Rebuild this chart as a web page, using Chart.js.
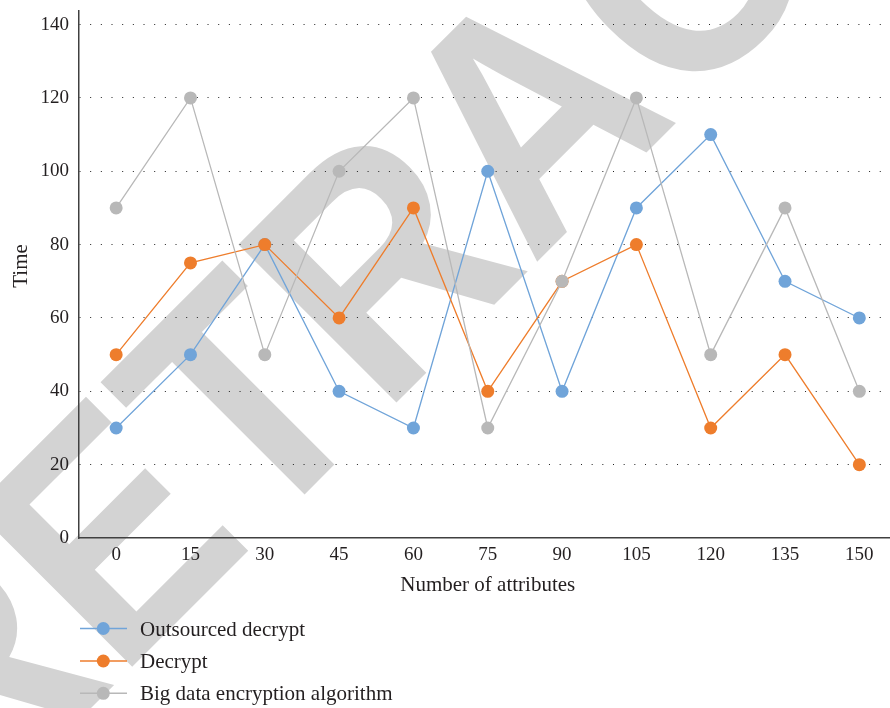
<!DOCTYPE html>
<html>
<head>
<meta charset="utf-8">
<title>Time vs number of attributes</title>
<script src="https://cdn.jsdelivr.net/npm/chart.js@4.4.1/dist/chart.umd.min.js"></script>
<style>
  html, body { margin: 0; padding: 0; background: #fff; width: 890px; height: 708px; overflow: hidden; }
  #wrap { position: absolute; left: 0; top: 0; width: 903px; height: 708px; }
  canvas { display: block; }
</style>
</head>
<body>
<div id="wrap"><canvas id="chart" width="903" height="708"></canvas></div>
<script>
// Number of attributes (x categories)
const attributes = [0, 15, 30, 45, 60, 75, 90, 105, 120, 135, 150];
// Time per scheme
const outsourcedDecrypt = [30, 50, 80, 40, 30, 100, 40, 90, 110, 70, 60];
const decrypt = [50, 75, 80, 60, 90, 40, 70, 80, 30, 50, 20];
const bigDataEncryption = [90, 120, 50, 100, 120, 30, 70, 120, 50, 90, 40];
// Y axis tick values
const timeTicks = [0, 20, 40, 60, 80, 100, 120, 140];
const seriesNames = ['Outsourced decrypt', 'Decrypt', 'Big data encryption algorithm'];
const xTitle = 'Number of attributes';
const yTitle = 'Time';
const stampText = 'RETRACTED';

const COLORS = ['#70a4d9', '#ee7d2c', '#b8b8b8'];
const TEXT = '#231f20';
const SERIF = '"Liberation Serif", "DejaVu Serif", serif';

const decorations = {
  id: 'decorations',
  beforeDraw(chart) {
    const ctx = chart.ctx;
    ctx.save();
    ctx.fillStyle = '#fff';
    ctx.fillRect(0, 0, chart.width, chart.height);
    // large diagonal stamp behind the plot
    ctx.translate(-31, 830);
    ctx.rotate(-45 * Math.PI / 180);
    ctx.scale(0.9, 1);
    ctx.font = 'bold 325px "Liberation Sans", Arial, sans-serif';
    ctx.fillStyle = '#d3d3d3';
    ctx.textBaseline = 'alphabetic';
    ctx.textAlign = 'left';
    ctx.fillText(stampText, 0, 0);
    ctx.restore();
  },
  afterDraw(chart) {
    const ctx = chart.ctx;
    const area = chart.chartArea;
    ctx.save();
    ctx.fillStyle = TEXT;
    ctx.font = '21px ' + SERIF;
    // x axis title
    ctx.textAlign = 'center';
    ctx.textBaseline = 'alphabetic';
    ctx.fillText(xTitle, (area.left + area.right) / 2, 591);
    // y axis title
    ctx.save();
    ctx.translate(26.5, 266);
    ctx.rotate(-Math.PI / 2);
    ctx.fillText(yTitle, 0, 0);
    ctx.restore();
    // legend: vertical list below the plot
    const rows = [628.5, 661, 693.3];
    chart.data.datasets.forEach((ds, i) => {
      const y = rows[i];
      ctx.strokeStyle = ds.borderColor;
      ctx.lineWidth = 1.5;
      ctx.beginPath();
      ctx.moveTo(80, y);
      ctx.lineTo(127, y);
      ctx.stroke();
      ctx.fillStyle = ds.pointBackgroundColor;
      ctx.beginPath();
      ctx.arc(103.3, y, 6.5, 0, Math.PI * 2);
      ctx.fill();
      ctx.fillStyle = TEXT;
      ctx.textAlign = 'left';
      ctx.textBaseline = 'alphabetic';
      ctx.fillText(ds.label, 140, y + 7);
    });
    ctx.restore();
  }
};

function series(label, data, color, order) {
  return {
    label: label,
    data: data,
    borderColor: color,
    backgroundColor: color,
    pointBackgroundColor: color,
    pointBorderColor: color,
    pointBorderWidth: 0,
    pointRadius: 6.5,
    borderWidth: 1.3,
    tension: 0,
    fill: false,
    order: order
  };
}

new Chart(document.getElementById('chart'), {
  type: 'line',
  data: {
    labels: attributes.map(String),
    datasets: [
      series(seriesNames[0], outsourcedDecrypt, COLORS[0], 3),
      series(seriesNames[1], decrypt, COLORS[1], 2),
      series(seriesNames[2], bigDataEncryption, COLORS[2], 1)
    ]
  },
  options: {
    responsive: false,
    animation: false,
    events: [],
    devicePixelRatio: 1,
    layout: { padding: { top: 11, right: 1, left: 0, bottom: 0 } },
    plugins: {
      legend: { display: false },
      tooltip: { enabled: false },
      title: { display: false }
    },
    scales: {
      x: {
        type: 'category',
        offset: true,
        grid: { display: false, drawTicks: false },
        border: { display: true, color: '#404040', width: 1.5 },
        ticks: { color: TEXT, font: { family: SERIF, size: 19 }, padding: 6, maxRotation: 0, autoSkip: false },
        afterFit(scale) { scale.height = 170; }
      },
      y: {
        min: 0,
        max: 143.7,
        afterBuildTicks(scale) { scale.ticks = timeTicks.map(v => ({ value: v })); },
        grid: {
          drawTicks: false,
          lineWidth: 1,
          color: c => (c.tick && c.tick.value === 0) ? 'rgba(0,0,0,0)' : '#222'
        },
        border: { display: true, color: '#404040', width: 1.5, dash: [1, 9.67] },
        ticks: { color: TEXT, font: { family: SERIF, size: 19, lineHeight: 1 }, padding: 10 },
        afterFit(scale) {
          scale.width = 79;
          scale.paddingTop = 0;
          scale.paddingBottom = 0;
        }
      }
    }
  },
  plugins: [decorations]
});
</script>
</body>
</html>
